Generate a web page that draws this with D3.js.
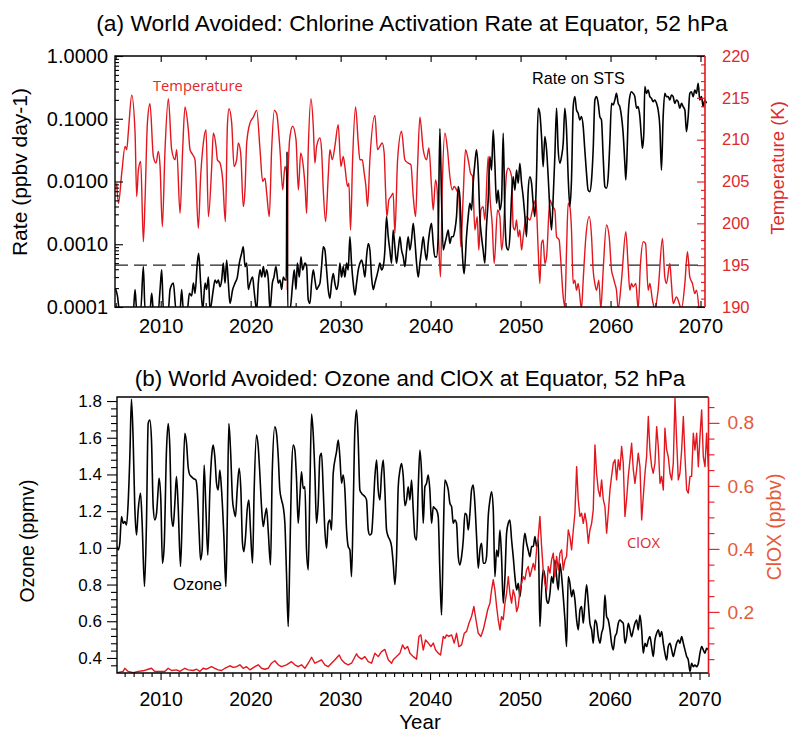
<!DOCTYPE html>
<html>
<head>
<meta charset="utf-8">
<script src="https://cdn.jsdelivr.net/npm/d3@7"></script>
<style>
  body { margin: 0; background: #fff; }
  svg text { font-family: "Liberation Sans", Arial, Helvetica, sans-serif; }
</style>
</head>
<body>
<svg id="chart" width="790" height="735"></svg>
<script>
// ---------------- data ----------------
// Panel (a): temperature at the equator, 52 hPa  [year, K]
const temperatureK = [
[2005.11,204.8],[2005.30,202.4],[2005.67,206.0],[2006.04,209.2],[2006.22,208.8],[2006.41,211.0],[2006.78,215.3],[2007.15,210.8],[2007.33,203.2],[2007.52,206.4],[2007.78,207.4],[2008.07,197.8],[2008.26,202.8],[2008.52,212.0],[2008.81,214.3],[2009.18,208.0],[2009.48,207.2],[2009.74,208.6],[2009.93,206.8],[2010.18,199.6],[2010.48,208.8],[2010.85,214.9],[2011.22,208.8],[2011.59,207.6],[2011.78,208.8],[2012.15,201.2],[2012.44,208.8],[2012.70,213.9],[2013.07,211.2],[2013.26,208.8],[2013.56,208.2],[2013.81,207.6],[2014.18,199.4],[2014.44,205.6],[2014.74,209.6],[2015.04,211.2],[2015.30,200.8],[2015.67,206.8],[2015.85,210.8],[2016.15,209.2],[2016.30,207.6],[2016.59,207.2],[2016.89,205.2],[2017.19,200.2],[2017.41,211.6],[2017.59,213.7],[2017.89,212.0],[2018.15,206.8],[2018.44,207.6],[2018.63,209.6],[2018.89,208.4],[2019.18,202.0],[2019.37,204.0],[2019.56,209.6],[2019.93,212.0],[2020.30,212.7],[2020.67,213.5],[2021.04,208.8],[2021.33,205.0],[2021.59,205.4],[2021.78,203.6],[2022.07,200.8],[2022.33,208.8],[2022.63,213.5],[2022.89,213.1],[2023.26,208.8],[2023.56,204.0],[2023.81,206.8],[2024.00,206.0],[2024.07,192.0],[2024.14,205.0],[2024.37,210.4],[2024.67,211.6],[2025.04,210.0],[2025.30,204.0],[2025.56,208.4],[2025.85,206.8],[2026.07,204.0],[2026.22,201.2],[2026.40,208.8],[2026.70,214.9],
[2026.96,211.6],[2027.14,207.2],[2027.33,209.2],[2027.70,210.2],[2027.88,208.8],[2028.07,204.0],[2028.33,200.2],[2028.62,205.6],[2028.81,208.8],[2029.07,207.6],[2029.36,209.2],[2029.73,211.8],[2030.03,206.8],[2030.29,208.0],[2030.47,206.8],[2030.77,204.4],[2030.92,204.8],[2031.10,199.2],[2031.33,207.6],[2031.66,213.9],[2031.96,209.6],[2032.14,207.6],[2032.40,207.6],[2032.62,206.0],[2032.81,204.4],[2032.99,202.0],[2033.25,207.6],[2033.81,212.9],[2034.10,208.8],[2034.36,209.2],[2034.62,209.6],[2034.84,208.4],[2034.99,204.0],[2035.14,200.8],[2035.36,202.8],[2035.59,203.2],[2035.84,203.6],[2036.03,198.8],[2036.33,207.6],[2036.77,211.0],[2037.14,207.6],[2037.51,207.2],[2037.81,207.0],[2038.07,203.2],[2038.33,200.8],[2038.55,206.8],[2038.81,212.7],[2039.18,208.8],[2039.55,207.6],[2039.81,209.0],[2040.10,204.4],[2040.29,201.6],[2040.55,205.2],[2040.73,204.0],[2040.92,197.2],[2041.10,193.6],[2041.29,204.0],[2041.59,210.8],[2041.88,208.8],[2042.14,205.6],[2042.40,204.0],[2042.62,204.4],[2042.88,204.0],[2043.14,203.2],[2043.36,197.2],[2043.62,203.2],[2043.88,208.8],[2044.18,207.6],[2044.44,206.0],[2044.66,205.6],[2044.92,199.2],[2045.18,200.8],[2045.36,196.8],[2045.59,201.6],[2045.84,202.0],[2046.03,200.4],[2046.40,208.0],[2046.62,202.8],[2046.84,200.0],[2047.07,195.2],[2047.44,201.6],
[2047.70,200.8],[2047.89,196.8],[2048.07,198.4],[2048.26,202.8],[2048.44,206.0],[2048.63,206.6],[2049.00,205.6],[2049.18,199.6],[2049.37,199.2],[2049.55,200.4],[2049.74,198.4],[2049.92,199.2],[2050.11,196.8],[2050.29,198.4],[2050.66,200.8],[2051.03,200.4],[2051.40,202.0],[2051.70,202.8],[2051.96,196.8],[2052.14,192.8],[2052.33,197.6],[2052.51,198.0],[2052.70,195.2],[2052.89,196.0],[2053.26,202.8],[2053.55,202.0],[2053.81,201.6],[2054.00,198.4],[2054.29,198.0],[2054.44,196.0],[2054.74,191.2],[2054.92,190.0],[2055.11,196.8],[2055.29,202.4],[2055.48,202.0],[2055.66,199.2],[2055.85,192.8],[2056.03,193.2],[2056.22,192.0],[2056.40,192.8],[2056.77,189.8],[2056.96,193.2],[2057.26,198.4],[2057.63,200.8],[2057.89,198.4],[2058.07,194.4],[2058.26,192.8],[2058.44,192.0],[2058.70,193.2],[2058.92,189.8],[2059.18,194.4],[2059.55,199.8],[2059.85,198.4],[2060.11,194.4],[2060.29,193.6],[2060.48,192.8],[2060.66,192.0],[2060.85,189.8],[2061.22,193.2],[2061.70,199.0],[2061.96,194.8],[2062.14,192.0],[2062.33,192.8],[2062.51,192.4],[2062.81,192.8],[2063.07,189.8],[2063.33,195.2],[2063.63,197.8],[2063.89,197.6],[2064.18,192.0],[2064.37,192.8],[2064.66,190.8],[2064.92,189.8],[2065.29,192.0],[2065.77,198.2],[2066.03,193.6],[2066.22,192.8],[2066.59,195.2],[2066.77,192.8],[2066.96,190.4],[2067.33,191.2],[2067.89,189.8],[2068.26,192.8],[2068.55,196.6],[2068.81,193.6],[2069.11,192.8],[2069.37,191.6],[2069.55,192.0],[2069.81,190.0]
];

// Panel (a): chlorine activation rate on STS  [year, ppbv day-1]
const activationRate = [
[2004.95,2.0e-4],[2005.19,1.5e-4],[2005.41,9e-5],[2006.96,9e-5],[2007.15,1.9e-4],[2007.33,9e-5],[2007.78,9e-5],[2008.07,4.4e-4],[2008.26,9e-5],[2008.81,9e-5],[2009.00,1.65e-4],[2009.18,9e-5],[2009.74,9e-5],[2009.93,1.9e-4],[2010.11,3.9e-4],[2010.30,9e-5],[2010.85,9e-5],[2011.04,1.9e-4],[2011.41,2.4e-4],[2011.70,9e-5],[2012.15,9e-5],[2012.33,1.9e-4],[2012.52,9e-5],[2012.96,9e-5],[2013.19,1.65e-4],[2013.44,1.5e-4],[2013.63,2.4e-4],[2013.81,1.65e-4],[2014.07,5.0e-4],[2014.22,7.2e-4],[2014.44,2.4e-4],[2014.67,9e-5],[2014.93,2.4e-4],[2015.11,1.9e-4],[2015.30,3.0e-4],[2015.48,9e-5],[2015.85,1.9e-4],[2016.04,2.7e-4],[2016.22,2.4e-4],[2016.41,2.7e-4],[2016.59,2.1e-4],[2016.78,2.7e-4],[2016.96,5.0e-4],[2017.15,2.4e-4],[2017.33,5.6e-4],[2017.52,2.4e-4],[2017.70,1.14e-4],[2018.00,1.9e-4],[2018.26,2.4e-4],[2018.52,3.0e-4],[2018.74,5.0e-4],[2019.00,7.2e-4],[2019.18,9.1e-4],[2019.37,4.4e-4],[2019.56,5.0e-4],[2019.74,1.9e-4],[2019.93,2.4e-4],[2020.22,3.0e-4],[2020.37,1.9e-4],[2020.67,9e-5],[2020.85,2.4e-4],[2021.04,3.9e-4],[2021.22,3.0e-4],[2021.41,4.4e-4],[2021.59,3.0e-4],[2021.78,3.9e-4],[2021.96,2.7e-4],[2022.15,9e-5],[2022.41,2.4e-4],[2022.59,3.0e-4],[2022.81,4.4e-4],[2023.07,2.4e-4],[2023.26,2.7e-4],[2023.44,1.9e-4],[2023.63,3.0e-4],[2023.81,2.7e-4],[2023.96,2.7e-4],[2024.04,3.0e-2],[2024.12,9e-5],[2024.37,9e-5],[2024.67,2.4e-4],[2024.85,3.9e-4],[2025.04,1.9e-4],[2025.19,5.0e-4],[2025.41,3.0e-4],[2025.59,6.3e-4],[2025.78,3.9e-4],[2026.03,5.0e-4],
[2026.22,4.4e-4],[2026.40,1.3e-4],[2026.59,1.14e-4],[2026.77,2.4e-4],[2026.96,3.9e-4],[2027.14,2.7e-4],[2027.33,1.9e-4],[2027.51,2.1e-4],[2027.70,2.4e-4],[2027.88,4.4e-4],[2028.07,9.1e-4],[2028.25,8.1e-4],[2028.44,3.9e-4],[2028.62,1.9e-4],[2028.81,1.37e-4],[2028.99,2.4e-4],[2029.18,3.4e-4],[2029.36,2.4e-4],[2029.55,1.9e-4],[2029.73,2.4e-4],[2029.92,5.0e-4],[2030.10,3.0e-4],[2030.29,4.4e-4],[2030.47,3.0e-4],[2030.66,5.0e-4],[2030.84,3.9e-4],[2031.03,1.32e-3],[2031.21,5.0e-4],[2031.40,2.4e-4],[2031.59,1.55e-4],[2031.77,2.4e-4],[2031.96,3.9e-4],[2032.14,5.0e-4],[2032.33,5.6e-4],[2032.51,4.4e-4],[2032.70,3.0e-4],[2032.88,6.3e-4],[2033.07,1.03e-3],[2033.25,8.1e-4],[2033.44,3.0e-4],[2033.62,1.9e-4],[2033.81,2.4e-4],[2033.99,3.0e-4],[2034.18,3.9e-4],[2034.36,5.0e-4],[2034.55,3.9e-4],[2034.73,4.4e-4],[2034.92,8.1e-4],[2035.10,2.75e-3],[2035.29,1.32e-3],[2035.47,8.1e-4],[2035.66,5.0e-4],[2035.84,1.69e-3],[2036.03,9.1e-4],[2036.21,5.0e-4],[2036.40,8.1e-4],[2036.59,1.32e-3],[2036.77,8.1e-4],[2036.96,6.3e-4],[2037.14,4.4e-4],[2037.33,8.1e-4],[2037.51,1.32e-3],[2037.70,8.1e-4],[2037.88,1.17e-3],[2038.07,2.15e-3],[2038.25,1.17e-3],[2038.44,5.0e-4],[2038.62,3.0e-4],[2038.81,5.0e-4],[2038.99,8.1e-4],[2039.18,1.32e-3],[2039.36,8.1e-4],[2039.55,5.6e-4],[2039.73,1.03e-3],[2039.92,1.69e-3],[2040.10,2.15e-3],[2040.29,1.03e-3],[2040.47,6.3e-4],[2040.66,6.3e-4],[2040.84,1.32e-3],[2041.03,7.0e-2],[2041.21,5.7e-3],[2041.40,8.1e-4],[2041.59,1.03e-3],[2041.77,1.32e-3],[2041.96,1.69e-3],[2042.14,1.03e-3],[2042.33,1.32e-3],[2042.51,1.32e-3],[2042.70,1.69e-3],[2042.88,2.75e-3],[2043.07,8.3e-3],[2043.25,5.7e-3],[2043.44,1.32e-3],[2043.62,4.4e-4],[2043.73,3.4e-4],[2043.99,1.32e-3],[2044.18,2.75e-3],[2044.36,4.5e-3],[2044.55,3.5e-3],[2044.73,9.4e-3],[2044.92,1.95e-2],[2045.10,3.2e-2],[2045.29,1.52e-2],[2045.47,2.75e-3],[2045.66,1.32e-3],[2045.84,8.1e-4],[2046.03,5.0e-4],[2046.21,1.91e-3],[2046.40,5.1e-3],[2046.59,2.5e-2],[2046.77,1.52e-2],[2046.96,6.6e-2],[2047.14,1.95e-2],[2047.33,4.5e-3],[2047.51,7.3e-3],
[2047.70,3.5e-3],[2047.89,5.1e-3],[2048.07,5.9e-2],[2048.26,2.75e-3],[2048.44,9.1e-4],[2048.63,8.1e-4],[2048.81,1.32e-3],[2049.00,5.7e-3],[2049.18,1.19e-2],[2049.37,7.3e-3],[2049.55,1.52e-2],[2049.74,9.4e-3],[2049.92,1.95e-2],[2050.11,9.4e-3],[2050.29,5.7e-3],[2050.48,2.75e-3],[2050.66,1.32e-3],[2050.85,7.3e-3],[2051.03,1.19e-2],[2051.22,9.4e-3],[2051.40,4.5e-3],[2051.59,2.75e-3],[2051.77,1.19e-2],[2051.96,0.147],[2052.14,0.122],[2052.33,5.2e-2],[2052.51,1.72e-2],[2052.70,5.2e-2],[2052.89,3.2e-2],[2053.07,1.19e-2],[2053.26,3.5e-3],[2053.44,1.69e-3],[2053.63,5.7e-3],[2053.81,2.5e-2],[2054.00,0.147],[2054.18,3.2e-2],[2054.37,1.95e-2],[2054.55,2.5e-2],[2054.74,4.1e-2],[2054.92,0.147],[2055.11,6.6e-2],[2055.29,1.19e-2],[2055.48,4.0e-3],[2055.66,1.06e-2],[2055.85,0.156],[2056.03,0.225],[2056.22,0.138],[2056.40,0.122],[2056.59,9.6e-2],[2056.77,0.108],[2056.96,7.5e-2],[2057.14,3.2e-2],[2057.33,1.35e-2],[2057.51,7.3e-3],[2057.70,6.9e-3],[2057.89,1.06e-2],[2058.07,3.2e-2],[2058.26,0.199],[2058.44,0.225],[2058.63,0.176],[2058.81,0.108],[2058.99,9.6e-2],[2059.18,2.5e-2],[2059.37,8.3e-3],[2059.55,7.8e-3],[2059.74,1.19e-2],[2059.92,4.1e-2],[2060.11,0.176],[2060.29,0.166],[2060.48,0.199],[2060.66,0.254],[2060.85,0.176],[2061.03,0.156],[2061.22,0.108],[2061.40,5.9e-2],[2061.59,1.95e-2],[2061.70,1.06e-2],[2061.85,3.2e-2],[2061.96,0.108],[2062.14,0.225],[2062.33,0.270],[2062.51,0.254],[2062.70,0.225],[2062.89,0.147],[2063.07,0.156],[2063.26,0.108],[2063.44,4.9e-2],[2063.55,3.4e-2],[2063.70,5.9e-2],[2063.81,0.325],[2063.99,0.254],[2064.18,0.287],[2064.37,0.225],[2064.55,0.212],[2064.74,0.187],[2064.92,0.199],[2065.11,0.176],[2065.29,0.138],[2065.48,7.5e-2],[2065.66,1.52e-2],[2065.85,0.108],[2066.03,0.254],[2066.22,0.225],[2066.40,0.225],[2066.59,0.199],[2066.77,0.239],[2066.96,0.225],[2067.14,0.176],[2067.33,0.199],[2067.51,0.187],[2067.70,0.147],[2067.89,0.176],[2068.07,0.156],[2068.26,0.138],[2068.44,6.2e-2],[2068.63,0.108],[2068.81,0.254],[2068.99,0.270],[2069.18,0.225],[2069.37,0.287],[2069.55,0.254],[2069.74,0.367],[2069.92,0.199],[2070.11,0.225],[2070.29,0.156],[2070.48,0.199],[2070.66,0.176]
];

// Panel (b): ozone mixing ratio  [year, ppmv]
const ozonePpmv = [
[2005.17,1.007],[2005.28,0.988],[2005.46,1.025],[2005.65,1.170],[2005.83,1.134],[2006.02,1.143],[2006.21,1.125],[2006.39,1.243],[2006.58,1.497],[2006.76,1.810],[2006.95,1.588],[2007.13,1.224],[2007.32,1.070],[2007.51,1.206],[2007.77,1.297],[2007.95,1.134],[2008.21,0.789],[2008.43,1.134],[2008.62,1.678],[2008.80,1.697],[2008.99,1.588],[2009.18,1.224],[2009.36,1.152],[2009.55,1.188],[2009.73,1.315],[2009.84,1.379],[2010.03,1.261],[2010.21,0.916],[2010.40,1.007],[2010.66,1.533],[2010.85,1.678],[2011.03,1.551],[2011.22,1.170],[2011.40,1.116],[2011.59,1.243],[2011.77,1.388],[2011.96,1.224],[2012.22,0.898],[2012.44,1.224],[2012.70,1.624],[2012.89,1.570],[2013.07,1.442],[2013.26,1.397],[2013.44,1.388],[2013.63,1.379],[2013.93,1.370],[2014.08,1.315],[2014.30,1.079],[2014.45,0.934],[2014.63,0.988],[2014.85,1.451],[2015.04,1.224],[2015.26,0.961],[2015.49,1.315],[2015.71,1.515],[2015.86,1.560],[2016.04,1.497],[2016.23,1.352],[2016.41,1.315],[2016.60,1.424],[2016.79,1.315],[2017.05,1.061],[2017.27,0.789],[2017.42,1.134],[2017.60,1.678],[2017.79,1.533],[2018.01,1.261],[2018.16,1.206],[2018.34,1.170],[2018.53,1.315],[2018.75,1.433],[2018.94,1.315],[2019.12,1.025],[2019.27,0.979],[2019.46,1.061],[2019.64,1.206],[2019.83,1.261],[2020.01,1.097],[2020.24,0.916],[2020.42,1.315],[2020.68,1.615],[2020.87,1.551],[2021.05,1.406],[2021.24,1.224],[2021.43,1.116],[2021.61,1.170],[2021.80,1.215],[2021.98,1.097],[2022.24,0.907],[2022.43,1.406],[2022.72,1.660],[2022.91,1.624],[2023.10,1.497],[2023.28,1.315],[2023.47,1.261],[2023.65,1.224],[2023.84,1.134],[2024.02,0.861],[2024.21,0.571],[2024.39,0.952],[2024.58,1.406],[2024.77,1.560],[2024.95,1.533],[2025.14,1.370],[2025.32,1.134],[2025.51,1.279],[2025.69,1.415],[2025.88,1.324],[2026.07,1.333],[2026.25,0.988],[2026.44,0.880],[2026.62,1.315],[2026.81,1.729],[2026.99,1.624],[2027.18,1.406],[2027.36,1.134],[2027.55,1.243],[2027.74,1.497],[2027.92,1.515],[2028.11,1.315],[2028.29,1.097],[2028.48,0.998],[2028.66,1.134],[2028.85,1.152],[2029.03,1.097],[2029.22,1.406],[2029.59,1.524],[2029.78,1.588],[2029.96,1.497],[2030.15,1.352],[2030.33,1.397],[2030.52,1.315],[2030.71,1.097],[2030.89,1.007],[2031.08,0.988],[2031.26,0.843],[2031.45,1.224],[2031.63,1.642],[2031.82,1.751],[2032.00,1.588],[2032.19,1.315],[2032.38,1.297],[2032.56,1.288],[2032.75,1.279],[2032.93,1.261],[2033.12,1.097],[2033.30,1.070],[2033.49,1.079],[2033.67,1.206],[2033.86,1.388],[2034.05,1.479],[2034.23,1.315],[2034.42,1.261],[2034.60,1.406],[2034.79,1.479],[2034.97,1.315],[2035.16,1.097],[2035.35,1.061],[2035.53,1.043],[2035.72,1.007],[2035.90,0.916],[2036.09,0.800],[2036.27,0.952],[2036.46,1.333],[2036.65,1.424],[2036.83,1.460],[2037.02,1.388],[2037.20,1.230],
[2037.39,1.261],[2037.57,1.333],[2037.76,1.261],[2037.94,1.370],[2038.13,1.206],[2038.31,1.061],[2038.50,1.043],[2038.68,1.315],[2038.87,1.533],[2039.06,1.406],[2039.24,1.134],[2039.43,1.333],[2039.61,1.352],[2039.80,1.397],[2039.98,1.315],[2040.17,1.134],[2040.36,1.224],[2040.54,1.215],[2040.73,1.206],[2040.91,1.170],[2041.10,0.861],[2041.28,0.634],[2041.47,1.043],[2041.65,1.370],[2041.84,1.352],[2042.03,1.315],[2042.21,1.243],[2042.40,1.224],[2042.58,1.134],[2042.77,1.152],[2042.95,1.134],[2043.14,0.952],[2043.32,0.907],[2043.51,0.952],[2043.70,1.043],[2043.88,1.188],[2044.07,1.179],[2044.25,1.097],[2044.44,1.188],[2044.62,1.315],[2044.81,1.342],[2044.99,1.243],[2045.18,1.061],[2045.37,0.889],[2045.55,0.988],[2045.74,1.025],[2045.92,0.916],[2046.11,0.916],[2046.29,0.952],[2046.48,1.170],[2046.67,1.261],[2046.85,1.306],[2047.04,1.206],[2047.22,0.843],[2047.41,0.988],[2047.59,0.952],[2047.78,1.097],[2047.96,0.952],[2048.15,0.698],[2048.34,0.843],[2048.52,1.079],[2048.71,1.134],[2048.89,1.152],[2049.08,1.043],[2049.26,0.952],[2049.45,0.843],[2049.64,0.771],[2049.82,0.807],[2050.01,0.734],[2050.19,0.825],[2050.38,1.007],[2050.56,1.079],[2050.75,1.025],[2050.93,0.988],[2051.12,0.952],[2051.31,1.007],[2051.49,1.007],[2051.68,1.061],[2051.86,1.007],[2052.05,1.043],[2052.23,0.571],[2052.42,0.771],[2052.60,0.880],[2052.79,0.843],[2052.98,0.716],[2053.16,0.698],[2053.35,0.752],[2053.53,0.843],[2053.72,0.807],[2053.90,0.934],[2054.09,0.843],[2054.28,0.771],[2054.46,0.916],[2054.65,0.843],[2054.83,0.734],[2055.02,0.607],[2055.20,0.462],[2055.39,0.843],[2055.57,0.807],[2055.76,0.734],[2055.95,0.771],[2056.13,0.716],[2056.32,0.607],[2056.50,0.553],[2056.69,0.662],[2056.87,0.680],[2057.06,0.589],[2057.24,0.698],[2057.43,0.798],[2057.62,0.698],[2057.80,0.589],[2057.99,0.553],[2058.17,0.480],[2058.36,0.607],[2058.54,0.589],[2058.73,0.516],[2058.92,0.480],[2059.10,0.535],[2059.29,0.571],[2059.47,0.743],[2059.66,0.625],[2059.84,0.607],[2060.03,0.553],[2060.21,0.480],[2060.40,0.444],[2060.59,0.516],[2060.77,0.535],[2060.96,0.589],[2061.14,0.607],[2061.33,0.598],[2061.51,0.589],[2061.70,0.480],[2061.88,0.516],[2062.07,0.589],[2062.26,0.553],[2062.44,0.516],[2062.63,0.553],[2062.81,0.589],[2063.00,0.607],[2063.18,0.553],[2063.37,0.634],[2063.56,0.553],[2063.74,0.426],[2063.93,0.480],[2064.11,0.462],[2064.30,0.498],[2064.48,0.516],[2064.67,0.462],[2064.85,0.408],[2065.04,0.498],[2065.23,0.535],[2065.41,0.553],[2065.60,0.516],[2065.78,0.544],[2065.97,0.480],[2066.15,0.426],[2066.34,0.389],[2066.52,0.462],[2066.71,0.480],[2066.90,0.444],[2067.08,0.408],[2067.27,0.444],[2067.45,0.480],[2067.64,0.498],[2067.82,0.480],[2068.01,0.516],[2068.20,0.480],[2068.38,0.444],[2068.57,0.408],[2068.75,0.389],[2068.94,0.326],[2069.12,0.371],[2069.31,0.353],[2069.49,0.362],[2069.68,0.353],[2069.87,0.371],[2070.05,0.426],[2070.24,0.462],[2070.42,0.444],[2070.61,0.426],[2070.79,0.453],[2070.98,0.444]
];

// Panel (b): ClOX mixing ratio  [year, ppbv]
const cloxPpbv = [
[2005.17,0.007],[2005.83,0.011],[2006.02,0.021],[2006.39,0.011],[2006.95,0.007],[2007.51,0.011],[2008.06,0.013],[2008.62,0.018],[2008.99,0.021],[2009.36,0.011],[2009.92,0.011],[2010.47,0.011],[2010.85,0.021],[2011.22,0.014],[2011.77,0.016],[2012.15,0.011],[2012.70,0.021],[2013.07,0.016],[2013.63,0.014],[2014.00,0.018],[2014.37,0.011],[2014.74,0.021],[2015.11,0.018],[2015.67,0.026],[2016.04,0.021],[2016.41,0.016],[2016.79,0.014],[2017.16,0.021],[2017.71,0.029],[2018.08,0.024],[2018.46,0.026],[2018.83,0.032],[2019.20,0.021],[2019.57,0.026],[2019.94,0.016],[2020.50,0.026],[2020.87,0.032],[2021.24,0.021],[2021.61,0.018],[2021.98,0.021],[2022.35,0.037],[2022.72,0.045],[2023.10,0.032],[2023.47,0.026],[2024.02,0.032],[2024.58,0.042],[2024.95,0.032],[2025.32,0.026],[2025.69,0.032],[2026.07,0.021],[2026.44,0.037],[2026.81,0.056],[2027.18,0.037],[2027.55,0.042],[2027.92,0.048],[2028.29,0.032],[2028.66,0.026],[2029.03,0.037],[2029.41,0.048],[2029.89,0.063],[2030.15,0.048],[2030.52,0.037],[2030.89,0.032],[2031.26,0.037],[2031.82,0.067],[2032.00,0.058],[2032.38,0.050],[2032.75,0.058],[2033.12,0.042],[2033.49,0.037],[2033.86,0.069],[2034.23,0.058],[2034.60,0.074],[2034.97,0.081],[2035.35,0.048],[2035.72,0.037],[2035.90,0.048],[2036.27,0.058],[2036.65,0.069],[2036.94,0.095],[2037.20,0.082],
[2037.50,0.090],[2037.76,0.069],[2038.13,0.058],[2038.50,0.050],[2038.76,0.122],[2038.98,0.127],[2039.24,0.079],[2039.50,0.111],[2039.80,0.101],[2040.10,0.090],[2040.36,0.101],[2040.62,0.079],[2040.91,0.069],[2041.17,0.063],[2041.47,0.122],[2041.65,0.116],[2041.84,0.127],[2042.10,0.122],[2042.40,0.127],[2042.69,0.101],[2042.95,0.132],[2043.21,0.090],[2043.51,0.095],[2043.81,0.132],[2044.07,0.138],[2044.33,0.164],[2044.62,0.185],[2044.88,0.217],[2045.11,0.175],[2045.37,0.132],[2045.66,0.122],[2045.92,0.143],[2046.18,0.175],[2046.41,0.206],[2046.67,0.228],[2046.85,0.270],[2047.04,0.302],[2047.22,0.270],[2047.41,0.217],[2047.59,0.175],[2047.78,0.143],[2047.96,0.185],[2048.15,0.175],[2048.34,0.228],[2048.52,0.259],[2048.71,0.312],[2048.89,0.259],[2049.08,0.228],[2049.26,0.270],[2049.45,0.249],[2049.64,0.201],[2049.82,0.217],[2050.01,0.270],[2050.19,0.291],[2050.38,0.312],[2050.56,0.302],[2050.75,0.333],[2050.93,0.344],[2051.12,0.312],[2051.31,0.333],[2051.49,0.354],[2051.68,0.333],[2051.86,0.397],[2052.05,0.439],[2052.23,0.503],[2052.42,0.407],[2052.60,0.333],[2052.79,0.291],[2052.98,0.270],[2053.16,0.344],[2053.35,0.323],[2053.53,0.365],[2053.72,0.386],[2053.90,0.312],[2054.09,0.376],[2054.28,0.333],[2054.46,0.386],[2054.65,0.397],[2054.83,0.333],[2055.02,0.365],[2055.20,0.376],[2055.39,0.460],[2055.57,0.439],[2055.76,0.397],[2055.95,0.460],[2056.13,0.513],[2056.32,0.661],[2056.50,0.556],[2056.69,0.503],[2056.87,0.513],[2057.06,0.481],[2057.24,0.513],[2057.43,0.481],[2057.62,0.418],[2057.80,0.460],[2057.99,0.481],[2058.17,0.524],[2058.36,0.730],[2058.54,0.640],[2058.73,0.587],[2058.92,0.566],[2059.10,0.619],[2059.29,0.556],[2059.47,0.534],[2059.66,0.450],[2059.84,0.513],[2060.03,0.587],[2060.21,0.630],[2060.40,0.672],[2060.59,0.683],[2060.77,0.619],[2060.96,0.683],[2061.14,0.651],[2061.33,0.725],[2061.51,0.672],[2061.70,0.503],[2061.88,0.556],[2062.07,0.630],[2062.26,0.683],[2062.44,0.735],[2062.63,0.651],[2062.81,0.608],[2063.00,0.651],[2063.18,0.704],[2063.37,0.661],[2063.56,0.492],[2063.74,0.566],[2063.93,0.640],[2064.11,0.693],[2064.30,0.820],[2064.48,0.714],[2064.67,0.661],[2064.85,0.640],[2065.04,0.672],[2065.23,0.788],[2065.41,0.725],[2065.60,0.608],[2065.78,0.630],[2065.97,0.587],[2066.15,0.783],[2066.34,0.714],[2066.52,0.693],[2066.71,0.640],[2066.90,0.619],[2067.08,0.672],[2067.27,0.878],[2067.45,0.746],[2067.64,0.619],[2067.82,0.640],[2068.01,0.714],[2068.20,0.820],[2068.38,0.693],[2068.57,0.587],[2068.75,0.577],[2068.94,0.630],[2069.12,0.630],[2069.31,0.767],[2069.49,0.714],[2069.68,0.767],[2069.87,0.661],[2070.05,0.757],[2070.24,0.841],[2070.42,0.693],[2070.61,0.661],[2070.79,0.767],[2070.98,0.661]
];

// Axis tick values and reference level
const yearTicks   = [2010, 2020, 2030, 2040, 2050, 2060, 2070];
const rateTicks   = [0.0001, 0.001, 0.01, 0.1, 1];
const tempTicks   = [190, 195, 200, 205, 210, 215, 220];
const ozoneTicks  = [0.4, 0.6, 0.8, 1.0, 1.2, 1.4, 1.6, 1.8];
const cloxTicks   = [0.2, 0.4, 0.6, 0.8];
const thresholdK  = 195;

// ---------------- layout ----------------
const RED = "#e3161e";
const RED_TEXT = "#dd2a2b";
const ORANGE_TEXT = "#e65a3c";
const svg = d3.select("#chart");

const A = { left: 115, right: 705, top: 56, bottom: 307 };
const B = { left: 117, right: 708.5, top: 397, bottom: 673 };

const xA = d3.scaleLinear().domain([2004.92, 2070.5]).range([A.left, A.right]);
const yRate = d3.scaleLog().domain([1e-4, 1]).range([A.bottom, A.top]);
const yTemp = d3.scaleLinear().domain([190, 220]).range([A.bottom, A.top]);

const xB = d3.scaleLinear().domain([2005.15, 2071.0]).range([B.left, B.right]);
const yO3 = d3.scaleLinear().domain([0.318, 1.822]).range([B.bottom, B.top]);
const yClox = d3.scaleLinear().domain([0.006, 0.882]).range([B.bottom, B.top]);

const smooth = d3.curveMonotoneX;

function text(g, x, y, str, o) {
  const t = g.append("text")
    .attr("transform", `translate(${x},${y})` + (o.rotate ? ` rotate(${o.rotate})` : ""))
    .attr("text-anchor", o.anchor || "middle")
    .attr("fill", o.color || "#000")
    .style("font-size", o.size + "px")
    .text(str);
  if (o.family) t.style("font-family", o.family);
  return t;
}

function styleAxis(g, color, fontSize, width) {
  g.select(".domain").remove();
  g.selectAll("line").attr("stroke", color).attr("stroke-width", width || 1.1);
  g.selectAll("text").attr("fill", color).style("font-size", fontSize + "px")
    .style("font-family", '"Liberation Sans", Arial, sans-serif');
}

const defs = svg.append("defs");
defs.append("clipPath").attr("id", "clipA").append("rect")
  .attr("x", A.left).attr("y", A.top).attr("width", A.right - A.left + 4).attr("height", A.bottom - A.top);
defs.append("clipPath").attr("id", "clipB").append("rect")
  .attr("x", B.left).attr("y", B.top - 1).attr("width", B.right - B.left + 2).attr("height", B.bottom - B.top + 1);

// ================= panel (a) =================
const gA = svg.append("g");

text(gA, 412, 31, "(a) World Avoided: Chlorine Activation Rate at Equator, 52 hPa", { size: 22.8 });

// data
const clipA = gA.append("g").attr("clip-path", "url(#clipA)");
clipA.append("line")
  .attr("x1", A.left).attr("x2", A.right)
  .attr("y1", yTemp(thresholdK)).attr("y2", yTemp(thresholdK))
  .attr("stroke", "#222").attr("stroke-width", 1.4).attr("stroke-dasharray", "13,6");
clipA.append("path").datum(temperatureK)
  .attr("fill", "none").attr("stroke", RED).attr("stroke-width", 1.4).attr("stroke-linejoin", "round")
  .attr("d", d3.line().curve(smooth).x(d => xA(d[0])).y(d => yTemp(d[1])));
clipA.append("path").datum(activationRate)
  .attr("fill", "none").attr("stroke", "#000").attr("stroke-width", 1.6).attr("stroke-linejoin", "round")
  .attr("d", d3.line().curve(smooth).x(d => xA(d[0])).y(d => yRate(Math.max(d[1], 9e-5))));

// left log axis (ticks inside)
const rateMinor = yRate.ticks().filter(v => !rateTicks.some(t => Math.abs(t - v) / t < 1e-6));
gA.append("g").attr("transform", `translate(${A.left},0)`)
  .call(d3.axisLeft(yRate).tickValues(rateMinor).tickFormat("").tickSizeInner(-4).tickSizeOuter(0))
  .call(g => styleAxis(g, "#000", 0));
gA.append("g").attr("transform", `translate(${A.left},0)`)
  .call(d3.axisLeft(yRate).tickValues(rateTicks).tickFormat(d3.format(".4f")).tickSizeInner(-8).tickSizeOuter(0).tickPadding(7))
  .call(g => styleAxis(g, "#000", 20));

// right temperature axis (ticks inside)
const tempMinor = d3.range(190, 221).filter(v => !tempTicks.includes(v));
gA.append("g").attr("transform", `translate(${A.right},0)`)
  .call(d3.axisRight(yTemp).tickValues(tempMinor).tickFormat("").tickSizeInner(-4).tickSizeOuter(0))
  .call(g => styleAxis(g, RED, 0));
gA.append("g").attr("transform", `translate(${A.right},0)`)
  .call(d3.axisRight(yTemp).tickValues(tempTicks).tickFormat(d3.format("d")).tickSizeInner(-8).tickSizeOuter(0).tickPadding(17))
  .call(g => styleAxis(g, RED_TEXT, 16.5))
  .call(g => g.selectAll("line").attr("stroke", RED));

// bottom / top year axes (ticks inside)
const fiveYears = d3.range(2005, 2071, 5).filter(v => !yearTicks.includes(v));
gA.append("g").attr("transform", `translate(0,${A.bottom})`)
  .call(d3.axisBottom(xA).tickValues(fiveYears).tickFormat("").tickSizeInner(-4).tickSizeOuter(0))
  .call(g => styleAxis(g, "#000", 0));
gA.append("g").attr("transform", `translate(0,${A.bottom})`)
  .call(d3.axisBottom(xA).tickValues(yearTicks).tickFormat(d3.format("d")).tickSizeInner(-6).tickSizeOuter(0).tickPadding(12))
  .call(g => styleAxis(g, "#000", 20));
gA.append("g").attr("transform", `translate(0,${A.top})`)
  .call(d3.axisTop(xA).tickValues(fiveYears).tickFormat("").tickSizeInner(-4).tickSizeOuter(0))
  .call(g => styleAxis(g, "#000", 0));
gA.append("g").attr("transform", `translate(0,${A.top})`)
  .call(d3.axisTop(xA).tickValues(yearTicks).tickFormat("").tickSizeInner(-6).tickSizeOuter(0))
  .call(g => styleAxis(g, "#000", 0));

// frame
gA.append("path").attr("d", `M${A.right},${A.top}H${A.left}V${A.bottom}H${A.right}`)
  .attr("fill", "none").attr("stroke", "#000").attr("stroke-width", 1.4);
gA.append("line").attr("x1", A.right).attr("x2", A.right).attr("y1", A.top).attr("y2", A.bottom)
  .attr("stroke", RED).attr("stroke-width", 1.6);

// axis titles and series labels
text(gA, 27, 172, "Rate (ppbv day-1)", { size: 21, rotate: -90 });
text(gA, 784, 168, "Temperature (K)", { size: 18.5, rotate: -90, color: RED_TEXT });
text(gA, 153, 91, "Temperature", { size: 14.7, anchor: "start", color: RED_TEXT, family: '"Open Sans", sans-serif' });
text(gA, 532, 84, "Rate on STS", { size: 16.2, anchor: "start" });

// ================= panel (b) =================
const gB = svg.append("g");

text(gB, 410, 386, "(b) World Avoided: Ozone and ClOX at Equator, 52 hPa", { size: 22.4 });

const clipB = gB.append("g").attr("clip-path", "url(#clipB)");
clipB.append("path").datum(ozonePpmv)
  .attr("fill", "none").attr("stroke", "#000").attr("stroke-width", 1.6).attr("stroke-linejoin", "round")
  .attr("d", d3.line().curve(smooth).x(d => xB(d[0])).y(d => yO3(d[1])));
clipB.append("path").datum(cloxPpbv)
  .attr("fill", "none").attr("stroke", RED).attr("stroke-width", 1.4).attr("stroke-linejoin", "round")
  .attr("d", d3.line().x(d => xB(d[0])).y(d => yClox(d[1])));

// left ozone axis (ticks outside)
const ozoneMinor = d3.range(9, 46).map(i => +(i * 0.04).toFixed(2)).filter(v => !ozoneTicks.some(t => Math.abs(t - v) < 1e-6));
gB.append("g").attr("transform", `translate(${B.left},0)`)
  .call(d3.axisLeft(yO3).tickValues(ozoneMinor).tickFormat("").tickSizeInner(6).tickSizeOuter(0))
  .call(g => styleAxis(g, "#000", 0));
gB.append("g").attr("transform", `translate(${B.left},0)`)
  .call(d3.axisLeft(yO3).tickValues(ozoneTicks).tickFormat(d3.format(".1f")).tickSizeInner(10).tickSizeOuter(0).tickPadding(5))
  .call(g => styleAxis(g, "#000", 17));

// right ClOX axis (ticks outside)
const cloxMinor = d3.range(1, 18).map(i => +(i * 0.05).toFixed(2)).filter(v => !cloxTicks.some(t => Math.abs(t - v) < 1e-6));
gB.append("g").attr("transform", `translate(${B.right},0)`)
  .call(d3.axisRight(yClox).tickValues(cloxMinor).tickFormat("").tickSizeInner(6).tickSizeOuter(0))
  .call(g => styleAxis(g, RED, 0));
gB.append("g").attr("transform", `translate(${B.right},0)`)
  .call(d3.axisRight(yClox).tickValues(cloxTicks).tickFormat(d3.format(".1f")).tickSizeInner(11).tickSizeOuter(0).tickPadding(8))
  .call(g => styleAxis(g, ORANGE_TEXT, 19.2))
  .call(g => g.selectAll("line").attr("stroke", RED));

// bottom year axis (ticks outside)
const yearMinor = d3.range(2006, 2072).filter(v => !yearTicks.includes(v));
gB.append("g").attr("transform", `translate(0,${B.bottom})`)
  .call(d3.axisBottom(xB).tickValues(yearMinor).tickFormat("").tickSizeInner(4).tickSizeOuter(0))
  .call(g => styleAxis(g, "#000", 0));
gB.append("g").attr("transform", `translate(0,${B.bottom})`)
  .call(d3.axisBottom(xB).tickValues(yearTicks).tickFormat(d3.format("d")).tickSizeInner(7).tickSizeOuter(0).tickPadding(12))
  .call(g => styleAxis(g, "#000", 19.5));

// frame
gB.append("path").attr("d", `M${B.right},${B.top}H${B.left}V${B.bottom}H${B.right}`)
  .attr("fill", "none").attr("stroke", "#000").attr("stroke-width", 1.4);
gB.append("line").attr("x1", B.right).attr("x2", B.right).attr("y1", B.top).attr("y2", B.bottom)
  .attr("stroke", RED).attr("stroke-width", 1.6);

text(gB, 34, 541, "Ozone (ppmv)", { size: 19.4, rotate: -90 });
text(gB, 781, 527, "ClOX (ppbv)", { size: 19.4, rotate: -90, color: ORANGE_TEXT });
text(gB, 173, 589.5, "Ozone", { size: 16.6, anchor: "start" });
text(gB, 627, 548, "ClOX", { size: 14.7, anchor: "start", color: RED_TEXT, family: '"Open Sans", sans-serif' });
text(gB, 420, 729, "Year", { size: 20.5 });
</script>
</body>
</html>
